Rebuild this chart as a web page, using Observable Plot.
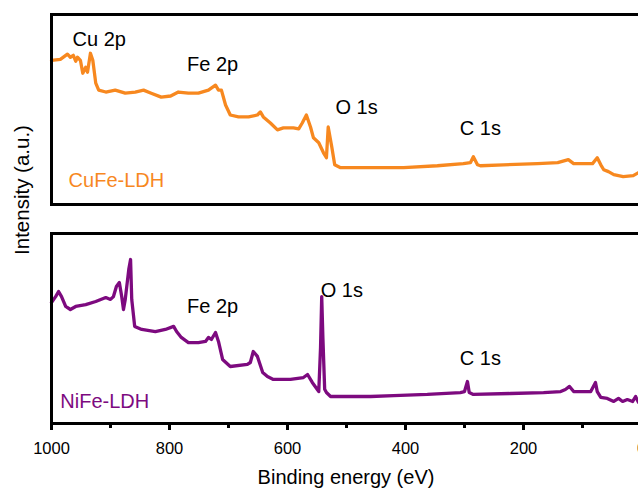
<!DOCTYPE html>
<html><head><meta charset="utf-8">
<script src="https://cdn.jsdelivr.net/npm/d3@7"></script>
<script src="https://cdn.jsdelivr.net/npm/@observablehq/plot@0.6"></script>
<style>
html,body{margin:0;padding:0;background:#fff;overflow:hidden;}
#chart{width:638px;height:490px;overflow:hidden;position:relative;}
#chart svg{max-width:none !important;}
</style></head><body><div id="chart"></div>
<script>
const panels = ["CuFe-LDH", "NiFe-LDH"];
const panelColors = ["#F7881F", "#7D0A7F"];

const cufeEnergy = [1000, 985, 973, 968, 963, 959, 956, 951, 947, 942, 939, 934, 930, 925, 920, 908, 892, 875, 858, 844, 831, 814, 798, 785, 768, 751, 734, 722, 717, 712, 705, 697, 683, 666, 651, 646, 641, 629, 617, 607, 590, 581, 575, 568, 561, 556, 547, 539, 534, 531, 525, 520, 510, 493, 459, 403, 346, 302, 290, 285, 278, 273, 234, 176, 142, 124, 115, 83, 75, 69, 64, 56, 47, 31, 14, 5, 0];
const cufeIntensity = [75.9, 76.4, 79.1, 77.5, 78.5, 75.4, 77.5, 75.9, 69.1, 72.3, 69.6, 79.6, 75.9, 63.9, 60.2, 59.2, 60.2, 58.6, 59.2, 60.2, 58.6, 56.5, 57.1, 59.2, 58.6, 58.6, 60.2, 62.8, 60.2, 60.2, 52.4, 47.1, 46.1, 46.1, 47.1, 48.7, 46.1, 42.9, 39.3, 40.3, 40.3, 39.8, 42.9, 47.1, 40.8, 35.1, 32.5, 27.2, 24.6, 40.8, 30.4, 20.9, 19.4, 19.4, 19.4, 19.4, 20.4, 21.5, 22.0, 25.1, 20.9, 20.4, 20.9, 21.5, 22.0, 23.6, 21.5, 21.5, 24.6, 20.9, 18.3, 17.3, 15.7, 14.7, 15.2, 16.8, 17.3];

const nifeEnergy = [1000, 993, 988, 983, 976, 968, 959, 942, 925, 908, 900, 895, 890, 885, 881, 878, 875, 869, 866, 864, 859, 847, 824, 807, 793, 788, 780, 768, 751, 739, 734, 729, 722, 717, 710, 697, 668, 663, 658, 651, 642, 634, 624, 595, 573, 566, 558, 547, 544, 542, 540, 537, 534, 527, 510, 459, 420, 363, 307, 300, 295, 292, 285, 222, 166, 137, 129, 122, 115, 86, 78, 75, 69, 58, 47, 39, 32, 24, 15, 10, 5, 0];
const nifeIntensity = [63.7, 66.8, 69.5, 66.8, 61.6, 60.0, 61.6, 62.6, 64.2, 66.3, 65.3, 66.8, 72.1, 74.2, 66.8, 60.0, 65.3, 81.1, 86.3, 65.3, 51.1, 49.5, 48.4, 49.5, 51.1, 48.4, 45.3, 42.6, 42.6, 43.2, 45.3, 44.2, 47.9, 43.2, 33.7, 30.0, 31.1, 32.1, 37.9, 35.3, 26.8, 24.7, 23.2, 23.2, 24.2, 25.8, 21.6, 16.8, 40, 66.8, 45, 18, 16.3, 14.2, 14.2, 14.2, 14.7, 15.3, 16.3, 16.8, 22.1, 16.3, 15.3, 15.8, 16.3, 16.8, 17.9, 19.5, 16.8, 16.8, 21.6, 16.8, 13.7, 13.2, 11.6, 13.2, 11.6, 12.6, 11.6, 14.2, 11.1, 10.0];

const peakPanel = ["CuFe-LDH", "CuFe-LDH", "CuFe-LDH", "CuFe-LDH", "NiFe-LDH", "NiFe-LDH", "NiFe-LDH"];
const peakText = ["Cu 2p", "Fe 2p", "O 1s", "C 1s", "Fe 2p", "O 1s", "C 1s"];
const peakEnergy = [919, 727, 483, 273, 727, 508, 273];
const peakIntensity = [87, 73.8, 50.8, 39.8, 61.3, 69.7, 34.2];

const sampleEnergy = [971, 985];
const sampleIntensity = [12.8, 11.3];

const majorTicks = [1000, 800, 600, 400, 200, 0];
const minorTicks = [900, 700, 500, 300, 100];
const xTitle = "Binding energy (eV)";
const yTitle = "Intensity (a.u.)";

const rows = [];
cufeEnergy.forEach((e, i) => rows.push({panel: panels[0], energy: e, intensity: cufeIntensity[i]}));
nifeEnergy.forEach((e, i) => rows.push({panel: panels[1], energy: e, intensity: nifeIntensity[i]}));
const peaks = peakText.map((t, i) => ({panel: peakPanel[i], text: t, energy: peakEnergy[i], intensity: peakIntensity[i]}));
const samples = panels.map((p, i) => ({panel: p, text: p, energy: sampleEnergy[i], intensity: sampleIntensity[i]}));

const font = "'Liberation Sans', Arial, Helvetica, sans-serif";

const plot = Plot.plot({
  width: 660, height: 490,
  marginLeft: 51, marginRight: 19, marginTop: 14, marginBottom: 66,
  style: {fontFamily: font, background: "#fff", color: "#000", maxWidth: "none"},
  x: {domain: [1000, 0], label: null},
  y: {domain: [0, 100], axis: null},
  fy: {domain: panels, paddingInner: 0.132, paddingOuter: 0, axis: null, label: null},
  color: {domain: panels, range: panelColors},
  marks: [
    Plot.line(rows, {x: "energy", y: "intensity", fy: "panel", stroke: "panel", strokeWidth: 3.3, strokeLinejoin: "round"}),
    Plot.frame({stroke: "#000", strokeWidth: 3}),
    Plot.text(peaks, {x: "energy", y: "intensity", fy: "panel", text: "text", fontSize: 20, fill: "#000"}),
    Plot.text(samples, {x: "energy", y: "intensity", fy: "panel", text: "text", fontSize: 20, fill: "panel", textAnchor: "start"}),
    Plot.axisX({ticks: majorTicks, tickSize: 7, tickPadding: 12, tickFormat: d => String(d), fontSize: 16.5, strokeWidth: 3, label: null}),
    Plot.axisX({ticks: minorTicks, tickSize: 5, text: null, strokeWidth: 3, label: null})
  ]
});

plot.style.maxWidth = "none";
document.getElementById("chart").appendChild(plot);
const svg = d3.select(plot);
svg.append("text")
  .attr("x", 346).attr("y", 479)
  .attr("text-anchor", "middle").attr("dominant-baseline", "middle")
  .attr("font-family", font).attr("font-size", 20).attr("fill", "#000")
  .text(xTitle);
svg.append("text")
  .attr("transform", "translate(24,190) rotate(-90)")
  .attr("text-anchor", "middle").attr("dominant-baseline", "middle")
  .attr("font-family", font).attr("font-size", 20.5).attr("fill", "#000")
  .text(yTitle);
</script></body></html>
